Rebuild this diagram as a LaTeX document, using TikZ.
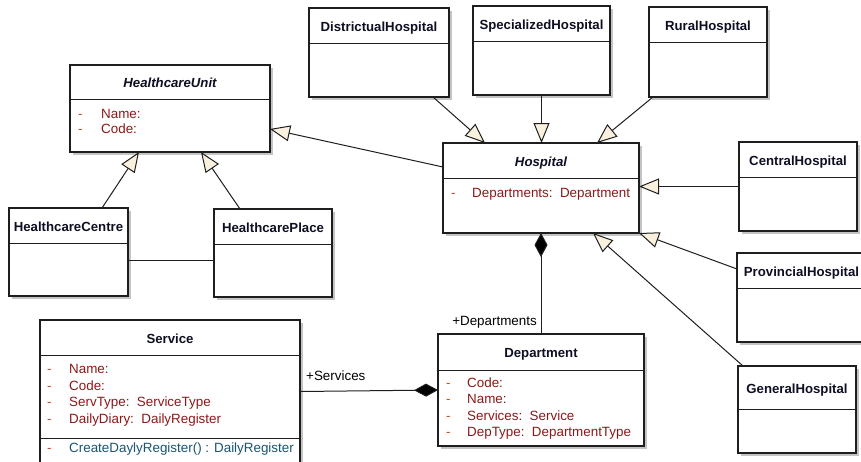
\documentclass[tikz,border=0pt]{standalone}
\usepackage{fontspec}
\setmainfont{Liberation Sans}
\usetikzlibrary{arrows.meta,calc,shadows}

\definecolor{linec}{RGB}{30,30,30}
\definecolor{shadowc}{RGB}{196,196,196}
\definecolor{cream}{RGB}{250,240,222}
\definecolor{attrc}{RGB}{140,25,25}
\definecolor{dashc}{RGB}{195,75,35}
\definecolor{opc}{RGB}{25,85,115}
\definecolor{titlec}{RGB}{15,15,35}

\tikzset{
  classbox/.style={draw=linec, fill=white, line width=1.2pt, rectangle,
    inner sep=0pt, outer sep=0pt, anchor=north west,
    drop shadow={shadow xshift=3pt, shadow yshift=-3pt, fill=shadowc, opacity=1}},
  ctitle/.style={font=\fontsize{13.2}{15}\selectfont\bfseries, text=titlec,
    inner sep=0pt, anchor=base},
  attr/.style={font=\fontsize{13.4}{15}\selectfont, text=attrc,
    inner sep=0pt, anchor=base west},
  oper/.style={attr, text=opc},
  attrdash/.style={font=\fontsize{13.4}{15}\selectfont, text=dashc,
    inner sep=0pt, anchor=base west},
  sepline/.style={draw=linec, line width=1pt},
  gen/.style={draw=linec, line width=1pt,
    -{Triangle[length=20pt,width=16pt,fill=cream]}},
  comp/.style={draw=linec, line width=1pt,
    -{Diamond[length=24pt,width=13pt,fill=black]}},
  assoc/.style={draw=linec, line width=1pt},
  lbl/.style={font=\fontsize{13.4}{15}\selectfont, text=black, inner sep=0pt},
}

% class box: name, x1, y1, x2, y2, header line y, title style, title
\newcommand{\umlclass}[8]{%
  \node[classbox, minimum width={(#4-#2)*1pt}, minimum height={(#5-#3)*1pt}] (#1) at (#2,#3) {};
  \draw[sepline] (#2,#6) -- (#4,#6);
  \pgfmathsetmacro\tcx{(#2+#4)/2}
  \pgfmathsetmacro\tcy{(#3+#6)/2+5.5}
  \node[ctitle] (#1-t) at (\tcx,\tcy) {#7#8};
}

% member line: name, dash x, text x, baseline y, style, text
\newcommand{\umlmember}[6]{%
  \node[attrdash] (#1-d) at (#2,#4) {-};
  \node[#5] (#1) at (#3,#4) {#6};
}

\begin{document}
\begin{tikzpicture}[x=1pt,y=-1pt]
\useasboundingbox (0,0) rectangle (861,461);
\clip (0,0) rectangle (861,461);

% abstract base classes
\umlclass{hu}{70}{65}{270}{152}{99}{\itshape}{HealthcareUnit}
\umlmember{hu-a1}{78}{101}{118.5}{attr}{Name:}
\umlmember{hu-a2}{78}{101}{133.5}{attr}{Code:}

\umlclass{hc}{9}{208}{128}{296}{243}{}{HealthcareCentre}
\umlclass{hp}{214}{209}{332}{297}{244}{}{HealthcarePlace}

\umlclass{ho}{443}{143}{639}{233}{178}{\itshape}{Hospital}
\umlmember{ho-a1}{451}{472}{197}{attr}{Departments:\ \ Department}

% hospital kinds
\umlclass{dh}{309}{8}{449}{97}{43}{}{DistrictualHospital}
\umlclass{sh}{473}{6}{610}{95}{41}{}{SpecializedHospital}
\umlclass{rh}{649}{7}{767}{97}{42}{}{RuralHospital}
\umlclass{ch}{739}{142}{857}{231}{177}{}{CentralHospital}
\umlclass{ph}{737}{253}{866}{342}{288}{}{ProvincialHospital}
\umlclass{gh}{738}{366}{856}{453}{409}{}{GeneralHospital}

% department and service
\umlclass{de}{438}{334}{644}{446}{370}{}{Department}
\umlmember{de-a1}{446}{467}{387}{attr}{Code:}
\umlmember{de-a2}{446}{467}{403.5}{attr}{Name:}
\umlmember{de-a3}{446}{467}{420}{attr}{Services:\ \ Service}
\umlmember{de-a4}{446}{467}{436.5}{attr}{DepType:\ \ DepartmentType}

\umlclass{se}{40}{320}{300}{478}{355}{}{Service}
\umlmember{se-a1}{47}{69}{373}{attr}{Name:}
\umlmember{se-a2}{47}{69}{390}{attr}{Code:}
\umlmember{se-a3}{47}{69}{406.5}{attr}{ServType:\ \ ServiceType}
\umlmember{se-a4}{47}{69}{423}{attr}{DailyDiary:\ \ DailyRegister}
\draw[sepline] (40,438) -- (300,438);
\umlmember{se-o1}{47}{69}{452.5}{oper}{CreateDaylyRegister() : DailyRegister}

% generalizations
\draw[gen] ([xshift=33.5pt]hc.north) -- ([xshift=-31pt]hu.south);
\draw[gen] ([xshift=-33pt]hp.north) -- ([xshift=31pt]hu.south);
\draw[gen] ([yshift=21pt]ho.west) -- ([yshift=-20.5pt]hu.east);
\draw[gen] ([xshift=54pt]dh.south) -- ([xshift=-56pt]ho.north);
\draw[gen] (sh.south) -- (sh.south |- ho.north);
\draw[gen] ([xshift=-55pt]rh.south) -- ([xshift=56pt]ho.north);
\draw[gen] (ch.west) -- (ch.west -| ho.east);
\draw[gen] ([yshift=28.5pt]ph.west) -- (ho.south east);
\draw[gen] ([xshift=5pt]gh.north west) -- ([xshift=52pt]ho.south);

% association
\draw[assoc] ([yshift=-8pt]hc.east) -- ([yshift=-8pt]hc.east -| hp.west);

% compositions
\draw[comp] (de.north) -- (ho.south);
\node[lbl, anchor=base east] (lb-dep) at (537,325) {+Departments};
\draw[comp] ([yshift=7.5pt]se.east) -- (de.west);
\node[lbl, anchor=base west] (lb-ser) at (306,380) {+Services};
\end{tikzpicture}
\end{document}
